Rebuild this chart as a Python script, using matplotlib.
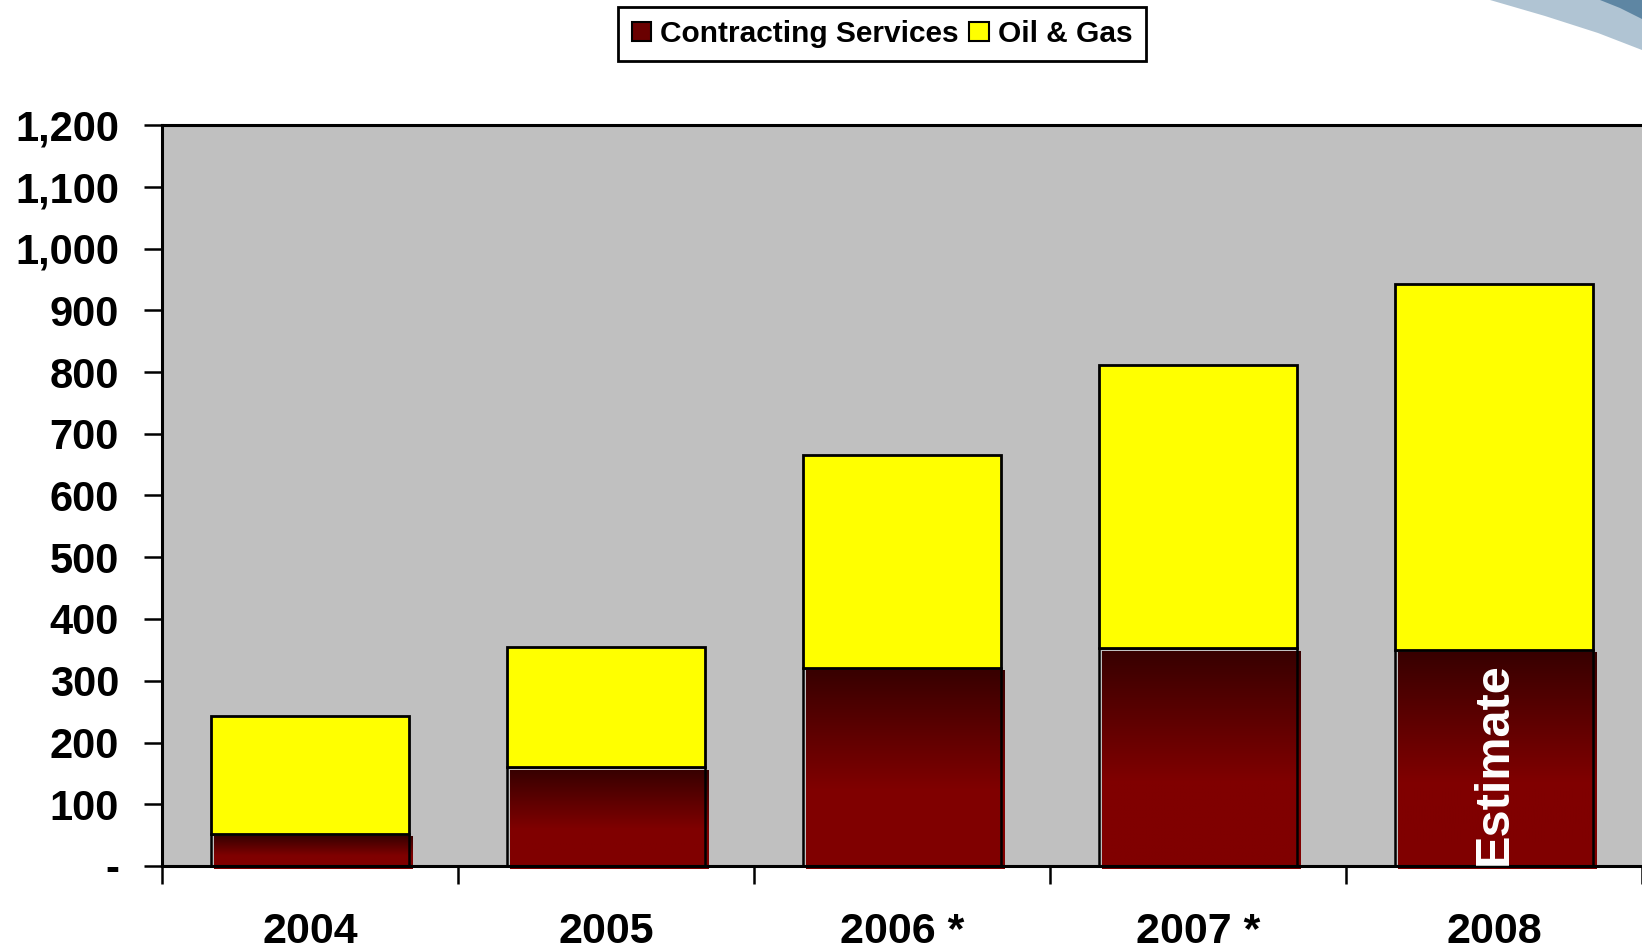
import matplotlib
matplotlib.use("Agg")
import matplotlib.pyplot as plt
import numpy as np
from matplotlib.patches import Rectangle, Polygon
from matplotlib.colors import LinearSegmentedColormap
from matplotlib.ticker import FuncFormatter, FixedLocator

# data
years = ["2004", "2005", "2006 *", "2007 *", "2008"]
contracting = [52, 160, 321, 353, 350]
oil_gas = [191, 195, 344, 459, 593]
estimate_label = "Estimate"

plt.rcParams['font.family'] = ['Liberation Sans', 'DejaVu Sans']
plt.rcParams['font.weight'] = 'bold'

fig = plt.figure(figsize=(16.42, 9.5), dpi=100)
ax = fig.add_axes([162 / 1642, 84 / 950, 1 - 162 / 1642, 741 / 950])
ax.set_facecolor("#c0c0c0")

# corner swoosh decoration (pixel coords, top-based)
W, H = 1642, 950
def to_fig(pts):
    return [(x / W, 1 - y / H) for x, y in pts]
light = [(1490, 0), (1545, 16), (1598, 33), (1642, 50), (1642, 0)]
dark = [(1600, 0), (1620, 8), (1642, 19), (1642, 0)]
fig.patches.append(Polygon(to_fig(light), closed=True, transform=fig.transFigure,
                           facecolor="#b0c4d3", edgecolor="none"))
fig.patches.append(Polygon(to_fig(dark), closed=True, transform=fig.transFigure,
                           facecolor="#5e86a3", edgecolor="none"))

centers = np.arange(len(years)) + 0.5
width = 0.67
grad_cmap = LinearSegmentedColormap.from_list("mar", ["#380000", "#800000"])
grad = np.clip(np.linspace(0, 1, 200) / 0.6, 0, 1).reshape(-1, 1)

dx, dy = 0.009, 5  # shadow-like offset of the gradient fill
for c, cs, og in zip(centers, contracting, oil_gas):
    x0 = c - width / 2
    im = ax.imshow(grad, extent=[x0 + dx, x0 + width + dx, -dy, cs - dy],
                   aspect='auto', cmap=grad_cmap, vmin=0, vmax=1, zorder=2,
                   origin='upper', interpolation='bilinear')
    im.set_clip_on(False)
    ax.add_patch(Rectangle((x0, 0), width, cs, facecolor='none', edgecolor='black',
                           linewidth=1.8, zorder=3))
    ax.add_patch(Rectangle((x0, cs), width, og, facecolor='#ffff00', edgecolor='black',
                           linewidth=2.0, zorder=4))

ax.text(centers[-1], 2, estimate_label, rotation=90, color='white', fontsize=35,
        fontweight='bold', ha='center', va='bottom', zorder=5)

ax.set_xlim(0, len(years))
ax.set_ylim(0, 1200)

ax.yaxis.set_major_locator(FixedLocator(np.arange(0, 1201, 100)))
ax.yaxis.set_major_formatter(FuncFormatter(lambda v, p: "-" if v == 0 else f"{int(v):,}"))
ax.tick_params(axis='y', direction='out', length=13, width=1.8, pad=18, labelsize=30)

ax.xaxis.set_major_locator(FixedLocator(np.arange(0, len(years) + 1)))
ax.xaxis.set_minor_locator(FixedLocator(centers))
ax.set_xticklabels([], minor=False)
ax.set_xticklabels(years, minor=True)
ax.tick_params(axis='x', which='major', direction='out', length=13, width=1.8)
ax.tick_params(axis='x', which='minor', length=0, pad=33, labelsize=31)

for side in ['left', 'bottom', 'top']:
    ax.spines[side].set_linewidth(2.2)
ax.spines['right'].set_visible(False)

handles = [Rectangle((0, 0), 1, 1, facecolor='#6a0000', edgecolor='black', linewidth=1.5),
           Rectangle((0, 0), 1, 1, facecolor='#ffff00', edgecolor='black', linewidth=1.5)]
leg = fig.legend(handles, ["Contracting Services", "Oil & Gas"], ncol=2,
                 loc='center', bbox_to_anchor=(882 / W, 1 - 34 / H),
                 fontsize=21.5, frameon=True, fancybox=False, edgecolor='black',
                 framealpha=1, handlelength=0.65, handleheight=0.65, handletextpad=0.3,
                 columnspacing=0.35, borderpad=0.45, borderaxespad=0)
leg.get_frame().set_linewidth(2)
leg._legend_box.sep = 6
for t in leg.get_texts():
    t.set_fontweight('bold')

fig.savefig("out.png", dpi=100)
